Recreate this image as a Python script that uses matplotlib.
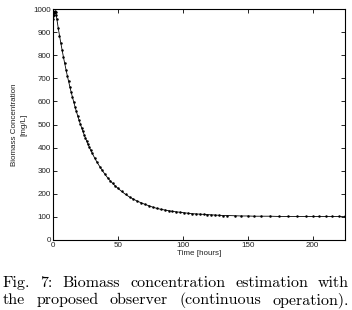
import matplotlib
matplotlib.use("Agg")
import matplotlib.pyplot as plt

time_h = [0, 0.25, 0.5, 0.75, 1, 1.25, 1.5, 1.75, 2, 2.5, 3, 4, 5, 6, 7, 8, 9, 10,
          11, 12, 13, 14, 15, 16, 17, 18, 19, 20, 21, 22, 23, 24, 25, 26, 27, 28,
          29, 30, 32, 34, 36, 38, 40, 42, 44, 46, 48, 50, 53, 56, 59, 62, 65, 68,
          71, 74, 77, 80, 83, 86, 89, 92, 95, 98, 101, 104, 107, 110, 113, 116,
          119, 122, 125, 128, 131, 134, 140, 145, 150, 155, 160, 167, 174, 181,
          188, 195, 200, 205, 210, 215, 220, 225]
biomass = [958, 968, 976, 982, 986, 989, 990, 989, 986, 975, 955, 919, 885, 853,
           823, 793, 765, 738, 712, 687, 663, 640, 618, 597, 576, 557, 538, 520,
           503, 487, 471, 456, 441, 428, 414, 402, 389, 378, 356, 336, 318, 301,
           285, 270, 257, 245, 234, 224, 210, 197, 186, 177, 168, 161, 154, 148,
           142, 137, 133, 130, 127, 124, 122, 120, 118, 116, 114, 113, 112, 111,
           110, 109, 108, 107, 106, 106, 105, 104, 104, 103, 103, 103, 102, 102,
           102, 102, 102, 102, 102, 102, 102, 102]

x_ticks = [0, 50, 100, 150, 200]
y_ticks = [0, 100, 200, 300, 400, 500, 600, 700, 800, 900, 1000]

W, H = 352, 310
fig = plt.figure(figsize=(W / 100, H / 100), dpi=100)
ax = fig.add_axes([53 / W, 1 - 240 / H, (345 - 53) / W, (240 - 9) / H])

ax.plot(time_h, biomass, color="black", lw=0.6, marker=".", ms=1.6)
ax.set_xlim(0, 225)
ax.set_ylim(0, 1000)
ax.set_xticks(x_ticks)
ax.set_yticks(y_ticks)
ax.tick_params(direction="in", length=3, width=0.6, top=True, right=True,
               labelsize=5.8, pad=1.5, labelcolor="#222222")
for lab in ax.get_xticklabels() + ax.get_yticklabels():
    lab.set_family("Liberation Sans")
for s in ax.spines.values():
    s.set_linewidth(0.8)

ax.set_xlabel("Time [hours]", fontsize=5.8, family="Liberation Sans", labelpad=1,
              color="#222222")
ax.set_ylabel("Biomass Concentration\n[mg/L]", fontsize=5.8,
              family="Liberation Sans", labelpad=4, linespacing=1.6,
              color="#222222")

# Caption, justified
lines = ["Fig.  7: Biomass concentration estimation with",
         "the proposed observer (continuous operation)."]
baselines = [287, 304]
fig.canvas.draw()
r = fig.canvas.get_renderer()
x0, x1 = 3, 349
for line, yp in zip(lines, baselines):
    words = line.split()
    texts = [fig.text(0, 1 - yp / H, w, fontsize=11.5, family="cmr10",
                      va="baseline", ha="left") for w in words]
    widths = [t.get_window_extent(renderer=r).width for t in texts]
    gap = (x1 - x0 - sum(widths)) / (len(words) - 1)
    xp = x0
    for t, wd in zip(texts, widths):
        t.set_x(xp / W)
        xp += wd + gap

fig.savefig("out.png", dpi=100)
